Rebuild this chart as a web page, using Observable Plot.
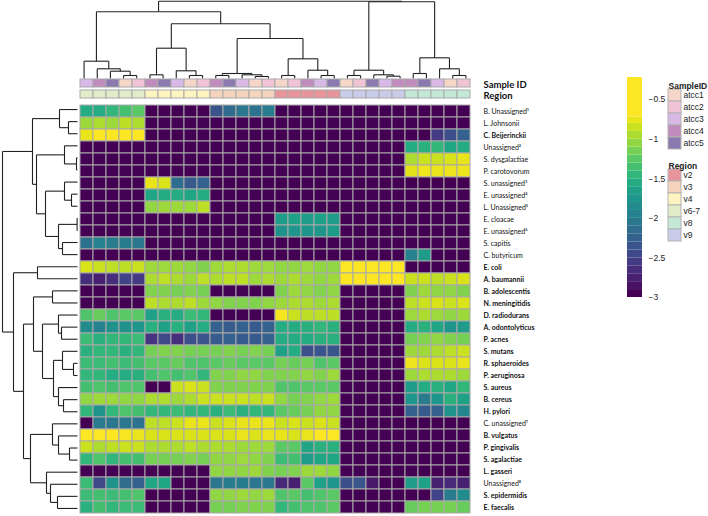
<!DOCTYPE html>
<html><head><meta charset="utf-8">
<script src="https://cdn.jsdelivr.net/npm/d3@7"></script>
<script src="https://cdn.jsdelivr.net/npm/@observablehq/plot@0.6"></script>
<style>
body{margin:0;background:#fff}
#chart{position:relative;width:708px;height:516px;overflow:hidden;background:#fff}
#chart svg{position:absolute;overflow:visible;background:transparent}
</style></head><body><div id="chart"></div>
<script>
// ---------- data ----------
const rowNames = ["B. Unassigned¹","L. Johnsonii","C. Beijerinckii","Unassigned²","S. dysgalactiae","P. carotovorum","S. unassigned³","E. unassigned⁴","L. Unassigned⁵","E. cloacae","E. unassigned⁶","S. capitis","C. butyricum","E. coli","A. baumannii","B. adolescentis","N. meningitidis","D. radiodurans","A. odontolyticus","P. acnes","S. mutans","R. sphaeroides","P. aeruginosa","S. aureus","B. cereus","H. pylori","C. unassigned⁷","B. vulgatus","P. gingivalis","S. agalactiae","L. gasseri","Unassigned⁸","S. epidermidis","E. faecalis"];
const rowBold = [0,0,1,0,0,0,0,0,0,0,0,0,0,1,1,1,1,1,1,1,1,1,1,1,1,1,0,1,1,1,1,0,1,1];
const sampleIds = ["atcc3","atcc4","atcc5","atcc1","atcc2","atcc4","atcc5","atcc3","atcc1","atcc2","atcc4","atcc5","atcc3","atcc1","atcc2","atcc1","atcc2","atcc4","atcc3","atcc5","atcc1","atcc2","atcc5","atcc3","atcc4","atcc4","atcc5","atcc3","atcc1","atcc2"];
const regions = ["v6-7","v6-7","v6-7","v6-7","v6-7","v4","v4","v4","v4","v4","v3","v3","v3","v3","v3","v2","v2","v2","v2","v2","v9","v9","v9","v9","v9","v8","v8","v8","v8","v8"];
const sampleKeys = ["atcc1","atcc2","atcc3","atcc4","atcc5"];
const sampleColors = ["#f5d6c8","#f0c3d5","#d8b8e7","#bf8cbd","#8b7ab0"];
const regionKeys = ["v2","v3","v4","v6-7","v8","v9"];
const regionColors = ["#e8949b","#f5d3bd","#fef4c0","#e3ecc8","#c3e8d6","#c8cce8"];
const colorTicks = [-3,-2.5,-2,-1.5,-1,-0.5];

// log abundance, one row per taxon, 30 samples in column order
const values = [
[-1.6,-1.6,-1.5,-1.4,-1.3, -3,-3,-3,-3,-3, -2.4,-2.2,-2.1,-2.15,-2.05, -3,-3,-3,-3,-3, -3,-3,-3,-3,-3, -3,-3,-3,-3,-3],
[-1.05,-1.0,-1.05,-0.95,-1.0, -3,-3,-3,-3,-3, -3,-3,-3,-3,-3, -3,-3,-3,-3,-3, -3,-3,-3,-3,-3, -3,-3,-3,-3,-3],
[-0.8,-0.6,-0.6,-0.65,-0.65, -3,-3,-3,-3,-3, -3,-3,-3,-3,-3, -3,-3,-3,-3,-3, -3,-3,-3,-3,-3, -3,-3,-2.6,-2.45,-2.3],
[-3,-3,-3,-3,-3, -3,-3,-3,-3,-3, -3,-3,-3,-3,-3, -3,-3,-3,-3,-3, -3,-3,-3,-3,-3, -1.6,-1.55,-1.5,-1.65,-1.6],
[-3,-3,-3,-3,-3, -3,-3,-3,-3,-3, -3,-3,-3,-3,-3, -3,-3,-3,-3,-3, -3,-3,-3,-3,-3, -1.0,-0.9,-0.9,-0.85,-0.8],
[-3,-3,-3,-3,-3, -3,-3,-3,-3,-3, -3,-3,-3,-3,-3, -3,-3,-3,-3,-3, -3,-3,-3,-3,-3, -0.82,-0.78,-0.8,-0.78,-0.78],
[-3,-3,-3,-3,-3, -0.8,-0.85,-2.2,-2.35,-2.3, -3,-3,-3,-3,-3, -3,-3,-3,-3,-3, -3,-3,-3,-3,-3, -3,-3,-3,-3,-3],
[-3,-3,-3,-3,-3, -1.65,-1.6,-1.6,-1.65,-1.6, -3,-3,-3,-3,-3, -3,-3,-3,-3,-3, -3,-3,-3,-3,-3, -3,-3,-3,-3,-3],
[-3,-3,-3,-3,-3, -1.1,-1.05,-1.05,-1.05,-0.95, -3,-3,-3,-3,-3, -3,-3,-3,-3,-3, -3,-3,-3,-3,-3, -3,-3,-3,-3,-3],
[-3,-3,-3,-3,-3, -3,-3,-3,-3,-3, -3,-3,-3,-3,-3, -1.75,-1.7,-1.75,-1.7,-1.75, -3,-3,-3,-3,-3, -3,-3,-3,-3,-3],
[-3,-3,-3,-3,-3, -3,-3,-3,-3,-3, -3,-3,-3,-3,-3, -1.85,-1.8,-1.8,-1.8,-1.75, -3,-3,-3,-3,-3, -3,-3,-3,-3,-3],
[-2.15,-2.0,-2.05,-2.05,-2.1, -3,-3,-3,-3,-3, -3,-3,-3,-3,-3, -3,-3,-3,-3,-3, -3,-3,-3,-3,-3, -3,-3,-3,-3,-3],
[-3,-3,-3,-3,-3, -3,-3,-3,-3,-3, -3,-3,-3,-3,-3, -3,-3,-3,-3,-3, -3,-3,-3,-3,-3, -2.0,-1.75,-3,-3,-3],
[-0.85,-0.9,-0.95,-0.95,-0.9, -1.05,-1.05,-1.05,-1.1,-1.15, -1.05,-1.0,-1.0,-1.05,-1.05, -1.1,-1.1,-1.05,-1.1,-1.1, -0.45,-0.4,-0.45,-0.45,-0.4, -3,-3,-3,-3,-3],
[-2.7,-2.8,-2.7,-2.55,-2.6, -1.0,-0.95,-1.0,-1.05,-0.95, -1.0,-0.95,-0.95,-1.05,-1.0, -1.05,-1.0,-1.05,-1.1,-1.05, -0.45,-0.45,-0.45,-0.45,-0.45, -0.9,-0.9,-0.95,-0.9,-0.85],
[-3,-3,-3,-3,-3, -1.15,-1.15,-1.2,-1.15,-1.2, -3,-3,-3,-3,-3, -1.15,-1.05,-1.1,-1.15,-1.1, -3,-3,-3,-3,-3, -1.15,-1.05,-1.1,-1.1,-1.15],
[-3,-3,-3,-3,-3, -0.95,-1.0,-1.0,-0.95,-1.05, -1.1,-1.15,-1.15,-1.15,-1.1, -1.05,-1.0,-1.0,-1.05,-1.0, -3,-3,-3,-3,-3, -0.95,-0.9,-0.85,-0.9,-0.85],
[-1.35,-1.25,-1.35,-1.3,-1.3, -1.7,-1.55,-1.6,-1.45,-1.5, -3,-3,-3,-3,-3, -0.75,-0.9,-0.95,-0.95,-0.95, -3,-3,-3,-3,-3, -1.05,-1.0,-1.05,-1.1,-1.05],
[-1.9,-2.0,-1.85,-1.85,-1.8, -1.55,-1.7,-1.55,-1.7,-1.6, -2.3,-2.35,-2.3,-2.35,-2.3, -1.6,-1.6,-1.55,-1.5,-1.55, -3,-3,-3,-3,-3, -1.6,-1.55,-1.65,-1.8,-1.75],
[-1.45,-1.55,-1.5,-1.5,-1.45, -2.65,-2.5,-2.7,-2.45,-2.4, -2.35,-2.3,-2.35,-2.35,-2.3, -1.6,-1.6,-1.6,-1.55,-1.55, -3,-3,-3,-3,-3, -1.2,-1.15,-1.1,-1.15,-1.2],
[-1.55,-1.5,-1.5,-1.55,-1.5, -1.2,-1.15,-1.15,-1.2,-1.2, -1.2,-1.15,-1.2,-1.15,-1.2, -1.7,-1.6,-2.45,-2.4,-2.4, -3,-3,-3,-3,-3, -1.05,-1.05,-1.0,-0.95,-0.9],
[-1.45,-1.45,-1.4,-1.45,-1.4, -1.3,-1.3,-1.25,-1.35,-1.35, -1.3,-1.25,-1.3,-1.3,-1.3, -1.2,-1.25,-1.2,-1.35,-1.3, -3,-3,-3,-3,-3, -0.78,-0.85,-0.85,-0.85,-0.8],
[-1.5,-1.5,-1.6,-1.6,-1.55, -1.4,-1.35,-1.4,-1.35,-1.5, -1.15,-1.15,-1.1,-1.1,-1.15, -1.15,-1.15,-1.1,-1.15,-1.05, -3,-3,-3,-3,-3, -1.05,-1.0,-1.0,-1.0,-1.05],
[-1.4,-1.35,-1.4,-1.35,-1.35, -3,-3,-0.9,-0.85,-0.9, -1.15,-1.15,-1.15,-1.15,-1.15, -1.35,-1.35,-1.3,-1.3,-1.3, -3,-3,-3,-3,-3, -1.75,-1.6,-1.55,-1.65,-1.5],
[-1.1,-1.05,-1.05,-1.1,-1.1, -1.0,-1.0,-1.05,-1.0,-0.9, -0.9,-0.9,-0.9,-0.95,-0.9, -1.1,-1.2,-1.15,-1.1,-1.05, -3,-3,-3,-3,-3, -1.8,-2.05,-1.8,-1.55,-1.7],
[-1.5,-1.85,-1.5,-1.35,-1.4, -1.5,-1.5,-1.45,-1.5,-1.5, -1.55,-1.45,-1.55,-1.5,-1.5, -1.3,-1.25,-1.2,-1.1,-1.1, -3,-3,-3,-3,-3, -2.3,-2.35,-2.3,-1.85,-1.95],
[-3,-2.05,-2.1,-2.1,-2.15, -0.95,-0.95,-0.9,-0.8,-0.8, -0.9,-0.85,-0.8,-0.8,-0.8, -0.9,-0.85,-0.9,-0.85,-0.9, -3,-3,-3,-3,-3, -3,-3,-3,-3,-3],
[-0.6,-0.6,-0.6,-0.75,-0.8, -0.85,-0.85,-0.85,-0.85,-0.85, -0.85,-0.85,-0.8,-0.85,-0.8, -0.8,-0.85,-0.8,-0.7,-0.7, -3,-3,-3,-3,-3, -3,-3,-3,-3,-3],
[-0.9,-1.0,-0.95,-0.9,-0.9, -1.0,-1.0,-1.0,-0.95,-1.0, -1.0,-1.0,-1.05,-1.05,-1.05, -1.3,-1.3,-1.65,-1.55,-1.55, -3,-3,-3,-3,-3, -3,-3,-3,-3,-3],
[-1.5,-1.35,-1.5,-1.4,-1.4, -1.2,-1.2,-1.2,-1.15,-1.2, -1.1,-1.1,-1.05,-1.1,-1.15, -1.45,-1.4,-1.75,-1.65,-1.65, -3,-3,-3,-3,-3, -3,-3,-3,-3,-3],
[-3,-3,-3,-3,-3, -3,-3,-3,-3,-3, -1.1,-1.1,-1.1,-1.05,-1.15, -1.2,-1.15,-1.05,-1.05,-1.1, -3,-3,-3,-3,-3, -3,-3,-3,-3,-3],
[-1.45,-2.5,-1.85,-2.2,-2.3, -1.65,-1.65,-3,-3,-3, -2.1,-2.05,-2.05,-2.1,-2.1, -2.75,-2.8,-1.3,-1.7,-1.8, -2.45,-2.4,-2.85,-3,-3, -1.75,-1.7,-2.8,-2.75,-2.8],
[-1.45,-1.4,-1.45,-1.4,-1.35, -3,-3,-3,-3,-3, -1.1,-1.1,-1.05,-1.1,-1.05, -1.35,-1.3,-1.4,-1.35,-1.3, -3,-3,-3,-3,-3, -3,-3,-2.55,-2.05,-1.9],
[-1.55,-1.4,-1.5,-1.45,-1.45, -3,-3,-3,-3,-3, -1.2,-1.2,-1.15,-1.15,-1.15, -1.5,-1.4,-1.35,-1.35,-1.3, -3,-3,-3,-3,-3, -1.25,-1.2,-1.2,-1.2,-1.25]
];

// dendrograms: [mergeHeight, left, right]; leaves are 1-based indices
const colTree = [77.3,
  [66.7,
    [17.3, 1, [9.7, 2, [7.3, 3, [3, 4, 5]]]],
    [54.7,
      [30.3, [3.7, 6, 7], [7.7, 8, [3, 9, 10]]],
      [40, [5, [3, 11, 12], [3.7, 13, [2, 14, 15]]],
           [19.7, [3, 16, 17], [8.3, 18, [3, 19, 20]]]]]],
  [76.7,
    [8.3, [3, 21, 22], [3.7, 23, [2.3, 24, 25]]],
    [20.7, [5, 26, 27], [9.7, 28, [3, 29, 30]]]]];
const rowTree = [75,
  [45,
    [18, 1, [9, 2, 3]],
    [41, [13, 4, [1, 5, 6]],
         [32, [13, 7, [6, 8, 9]], [19, [0.4, 10, 11], [15, 12, 13]]]]],
  [64,
    [40, 14, 15],
    [54,
      [44, [25, 16, 17],
           [35, [19, 18, [16, 19, 20]],
                [24, [15, 21, [4, 22, 23]], [19, 24, [14, 25, 26]]]]],
      [47, [25, 27, [19, 28, [8, 29, 30]]],
           [31, 31, [27, 32, [20, 33, 34]]]]]]];

// ---------- helpers ----------
function treeSegments(tree) {
  const segs = [];
  (function walk(n) {
    if (typeof n === "number") return {pos: n - 0.5, h: 0};
    const [h, a, b] = n;
    const A = walk(a), B = walk(b);
    segs.push({p1: A.pos, h1: A.h, p2: A.pos, h2: h});
    segs.push({p1: B.pos, h1: B.h, p2: B.pos, h2: h});
    segs.push({p1: A.pos, h1: h, p2: B.pos, h2: h});
    return {pos: (A.pos + B.pos) / 2, h};
  })(tree);
  return segs;
}
const chart = document.getElementById("chart");
function place(svg, left, top) {
  svg.style.left = left + "px";
  svg.style.top = top + "px";
  chart.appendChild(svg);
}
const nCols = sampleIds.length, nRows = rowNames.length;
const colIds = sampleIds.map((s, i) => regions[i] + "_" + s);
const HX = 77, HY = 103, HW = 395, HH = 411;
const heatColor = {type: "linear", scheme: "viridis", domain: [-3, -0.72], clamp: true};
const annColor = {type: "ordinal", domain: [...sampleKeys, ...regionKeys], range: [...sampleColors, ...regionColors]};
const gridStroke = "#a9a9a9";
const labelFont = "Lato, 'Open Sans', sans-serif";
const legendFont = "'Liberation Sans', Arial, sans-serif";
const minusFmt = d => String(d).replace("-", "\u2212");

// ---------- column dendrogram ----------
place(Plot.plot({
  width: HW, height: 78, margin: 0,
  x: {domain: [0, nCols], axis: null},
  y: {domain: [0, 78], axis: null},
  style: {background: "transparent", overflow: "visible"},
  marks: [Plot.link(treeSegments(colTree), {x1: "p1", y1: "h1", x2: "p2", y2: "h2", stroke: "#222", strokeWidth: 1.1})]
}), HX, 0);

// ---------- annotation bars ----------
const annData = [
  ...colIds.map((c, i) => ({col: c, track: "Sample ID", key: sampleIds[i]})),
  ...colIds.map((c, i) => ({col: c, track: "Region", key: regions[i]}))
];
place(Plot.plot({
  width: HW + 90, height: 24, marginTop: 2, marginBottom: 2, marginLeft: 0, marginRight: 90,
  x: {type: "band", domain: colIds, padding: 0, axis: null},
  y: {type: "band", domain: ["Sample ID", "Region"], paddingInner: 0.25, paddingOuter: 0, axis: null},
  color: annColor,
  style: {background: "transparent", overflow: "visible"},
  marks: [
    Plot.cell(annData, {x: "col", y: "track", fill: "key", stroke: gridStroke, strokeWidth: 1, inset: 0}),
    Plot.text(["Sample ID", "Region"], {y: d => d, text: d => d, frameAnchor: "right", dx: 11, dy: 1, textAnchor: "start", fontWeight: "bold", fontSize: 9.5, fontFamily: labelFont, fill: "#111"})
  ]
}), HX, 77);

// ---------- row dendrogram ----------
place(Plot.plot({
  width: HX, height: HH, margin: 0,
  x: {domain: [0, HX], range: [HX, 0], axis: null},
  y: {domain: [0, nRows], range: [0, HH], axis: null},
  style: {background: "transparent", overflow: "visible"},
  marks: [Plot.link(treeSegments(rowTree), {x1: "h1", y1: "p1", x2: "h2", y2: "p2", stroke: "#222", strokeWidth: 1.1})]
}), 0, HY);

// ---------- heatmap ----------
const cells = [];
values.forEach((row, i) => row.forEach((v, j) => cells.push({row: rowNames[i], col: colIds[j], value: v})));
place(Plot.plot({
  width: HW + 110, height: HH, marginTop: 0, marginBottom: 0, marginLeft: 0, marginRight: 110,
  x: {type: "band", domain: colIds, padding: 0, axis: null},
  y: {type: "band", domain: rowNames, padding: 0, axis: null},
  color: heatColor,
  style: {background: "transparent", overflow: "visible"},
  marks: [
    Plot.cell(cells, {x: "col", y: "row", fill: "value", stroke: gridStroke, strokeWidth: 1, inset: 0}),
    Plot.text(rowNames.filter((d, i) => rowBold[i]), {y: d => d, text: d => d, frameAnchor: "right", dx: 11, textAnchor: "start", fontWeight: "bold", fontSize: 7, fontFamily: labelFont, fill: "#111"}),
    Plot.text(rowNames.filter((d, i) => !rowBold[i]), {y: d => d, text: d => d, frameAnchor: "right", dx: 11, textAnchor: "start", fontSize: 7, fontFamily: labelFont, fill: "#111"})
  ]
}), HX, HY);

// ---------- colour bar ----------
const bandLows = d3.range(-3, -0.75, 0.1).map(v => +v.toFixed(2));
const bands = bandLows.map((lo, i) => ({lo, hi: i < bandLows.length - 1 ? bandLows[i + 1] : -0.72}));
bands.push({lo: -0.72, hi: -0.22});
place(Plot.plot({
  width: 40, height: 235, marginTop: 7, marginBottom: 8, marginLeft: 0, marginRight: 25,
  y: {domain: [-3, -0.22]},
  color: heatColor,
  style: {background: "transparent", overflow: "visible"},
  marks: [
    Plot.rect(bands, {y1: "lo", y2: "hi", fill: "lo", inset: 0}),
    Plot.axisY({anchor: "right", ticks: colorTicks, tickFormat: minusFmt, tickSize: 0, tickPadding: 6, fontSize: 8.5, fontFamily: legendFont, fill: "#222", label: null})
  ]
}), 627, 70);

// ---------- categorical legends ----------
function catLegend(title, keys, top) {
  place(Plot.plot({
    width: 40, height: 17 + keys.length * 12.67 + 1, marginTop: 17, marginBottom: 1, marginLeft: 0, marginRight: 27,
    y: {type: "band", domain: keys, padding: 0, axis: null},
    color: annColor,
    style: {background: "transparent", overflow: "visible"},
    marks: [
      Plot.cell(keys, {y: d => d, fill: d => d, stroke: "#b3b3b3", strokeWidth: 1, inset: 0}),
      Plot.text(keys, {y: d => d, text: d => d, frameAnchor: "right", dx: 2, textAnchor: "start", fontSize: 8.5, fontFamily: legendFont, fill: "#222"}),
      Plot.text([title], {frameAnchor: "top-left", dy: -5, textAnchor: "start", text: d => d, fontWeight: "bold", fontSize: 8.5, fontFamily: legendFont, fill: "#222"})
    ]
  }), 668, top);
}
catLegend("SampleID", sampleKeys, 70);
catLegend("Region", regionKeys, 150);
</script>
</body></html>
